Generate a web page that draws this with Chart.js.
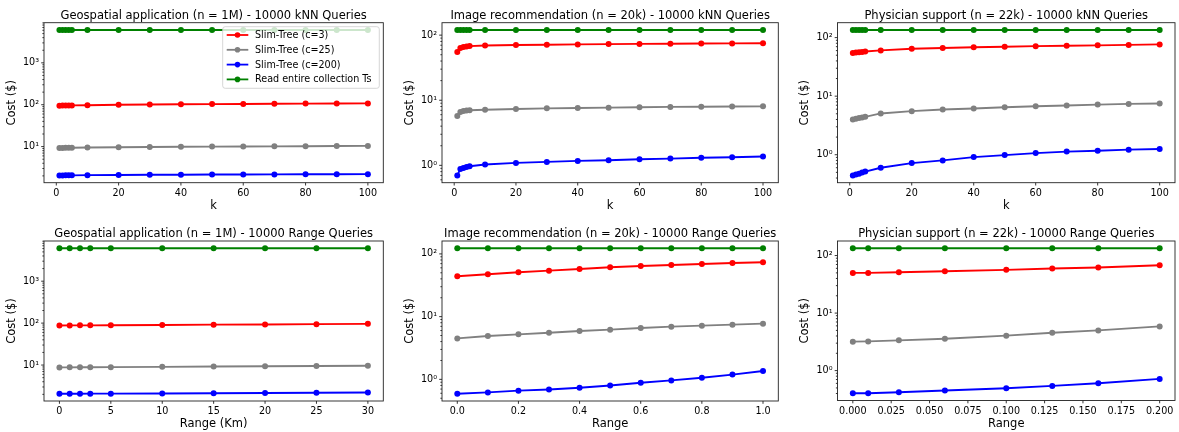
<!DOCTYPE html>
<html lang="en">
<head>
<meta charset="UTF-8" />
<title>Slim-Tree query cost</title>
<script src="https://cdn.jsdelivr.net/npm/chart.js"></script>
<style>
  html, body { margin: 0; padding: 0; background: #fff; }
  body { width: 1179px; height: 432px; position: relative; overflow: hidden; }
  canvas { position: absolute; }
</style>
</head>
<body>
<canvas id="p1"></canvas>
<canvas id="p2"></canvas>
<canvas id="p3"></canvas>
<canvas id="p4"></canvas>
<canvas id="p5"></canvas>
<canvas id="p6"></canvas>
<script>
// x values
const kValues = [1, 2, 3, 4, 5, 10, 20, 30, 40, 50, 60, 70, 80, 90, 100];
const kmValues = [0, 1, 2, 3, 5, 10, 15, 20, 25, 30];
const imgRanges = [0, 0.1, 0.2, 0.3, 0.4, 0.5, 0.6, 0.7, 0.8, 0.9, 1.0];
const physRanges = [0, 0.01, 0.03, 0.06, 0.1, 0.13, 0.16, 0.2];

// tick labels
const kTicks = [0, 20, 40, 60, 80, 100];
const kmTicks = [0, 5, 10, 15, 20, 25, 30];
const imgTicks = [0, 0.2, 0.4, 0.6, 0.8, 1.0];
const physTicks = [0, 0.025, 0.05, 0.075, 0.1, 0.125, 0.15, 0.175, 0.2];

const seriesNames = ['Slim-Tree (c=3)', 'Slim-Tree (c=25)', 'Slim-Tree (c=200)', 'Read entire collection Ts'];
const seriesColors = ['#ff0000', '#808080', '#0000ff', '#008000'];

// Geospatial kNN
const geoKnnC3 = [95, 95.3, 95.6, 96, 96.3, 97.5, 99.5, 101, 102.5, 103.5, 104.5, 105.5, 106.3, 107, 107.5];
const geoKnnC25 = [9.3, 9.32, 9.34, 9.36, 9.38, 9.5, 9.65, 9.8, 9.9, 10.0, 10.1, 10.15, 10.2, 10.3, 10.4];
const geoKnnC200 = [2.05, 2.05, 2.06, 2.06, 2.06, 2.08, 2.1, 2.12, 2.13, 2.15, 2.16, 2.17, 2.18, 2.19, 2.2];
const geoKnnTs = [6100, 6100, 6100, 6100, 6100, 6100, 6100, 6100, 6100, 6100, 6100, 6100, 6100, 6100, 6100];

// Image recommendation kNN
const imgKnnC3 = [55, 63.5, 65.5, 67, 67.8, 69.3, 70.5, 71.3, 72, 72.8, 73.3, 73.8, 74.2, 74.7, 75];
const imgKnnC25 = [5.75, 6.6, 6.85, 6.95, 7.0, 7.15, 7.35, 7.5, 7.6, 7.7, 7.8, 7.9, 7.95, 8.0, 8.05];
const imgKnnC200 = [0.70, 0.88, 0.91, 0.94, 0.97, 1.03, 1.09, 1.13, 1.17, 1.2, 1.24, 1.27, 1.31, 1.33, 1.37];
const imgKnnTs = [120, 120, 120, 120, 120, 120, 120, 120, 120, 120, 120, 120, 120, 120, 120];

// Physician support kNN
const physKnnC3 = [54.5, 55.5, 56.3, 57, 57.8, 60.5, 64.5, 66.5, 68.3, 70, 71.5, 72.8, 73.8, 75, 76.5];
const physKnnC25 = [4.0, 4.12, 4.22, 4.32, 4.43, 5.07, 5.55, 5.92, 6.15, 6.47, 6.72, 6.92, 7.18, 7.38, 7.5];
const physKnnC200 = [0.443, 0.46, 0.475, 0.495, 0.515, 0.6, 0.72, 0.8, 0.91, 0.985, 1.065, 1.13, 1.17, 1.22, 1.255];
const physKnnTs = [135, 135, 135, 135, 135, 135, 135, 135, 135, 135, 135, 135, 135, 135, 135];

// Geospatial range
const geoRangeC3 = [88, 88.2, 88.4, 88.6, 89, 90.5, 92, 93, 94.5, 96];
const geoRangeC25 = [8.8, 8.82, 8.84, 8.86, 8.9, 9.05, 9.2, 9.35, 9.5, 9.62];
const geoRangeC200 = [2.07, 2.07, 2.07, 2.08, 2.08, 2.1, 2.12, 2.15, 2.18, 2.21];
const geoRangeTs = [6100, 6100, 6100, 6100, 6100, 6100, 6100, 6100, 6100, 6100];

// Image recommendation range
const imgRangeC3 = [44, 47.3, 50.9, 54.1, 57.5, 61.2, 64.3, 66.7, 69.2, 71.8, 73.6];
const imgRangeC25 = [4.5, 4.91, 5.22, 5.54, 5.9, 6.2, 6.59, 6.92, 7.18, 7.45, 7.73];
const imgRangeC200 = [0.59, 0.62, 0.66, 0.69, 0.736, 0.80, 0.885, 0.963, 1.06, 1.19, 1.36];
const imgRangeTs = [123, 123, 123, 123, 123, 123, 123, 123, 123, 123, 123];

// Physician support range
const physRangeC3 = [50, 50, 51.4, 53.5, 56.4, 59.5, 61.9, 68];
const physRangeC25 = [3.19, 3.22, 3.36, 3.59, 4.05, 4.56, 5.0, 5.87];
const physRangeC200 = [0.404, 0.404, 0.421, 0.45, 0.494, 0.542, 0.603, 0.717];
const physRangeTs = [134, 134, 134, 134, 134, 134, 134, 134];

const panels = [
  { id: 'p1', title: 'Geospatial application (n = 1M) - 10000 kNN Queries', xLabel: 'k',
    x: kValues, xTicks: kTicks, dec: 0, series: [geoKnnC3, geoKnnC25, geoKnnC200, geoKnnTs], legend: true,
    box: [0, 0, 390, 216], area: [44, 22.7, 383.3, 182.7], xTitlePad: 3 },
  { id: 'p2', title: 'Image recommendation (n = 20k) - 10000 kNN Queries', xLabel: 'k',
    x: kValues, xTicks: kTicks, dec: 0, series: [imgKnnC3, imgKnnC25, imgKnnC200, imgKnnTs],
    box: [398, 0, 386, 216], area: [442, 22.7, 778.3, 182.7], xTitlePad: 3 },
  { id: 'p3', title: 'Physician support (n = 22k) - 10000 kNN Queries', xLabel: 'k',
    x: kValues, xTicks: kTicks, dec: 0, series: [physKnnC3, physKnnC25, physKnnC200, physKnnTs],
    box: [793, 0, 386, 216], area: [837.5, 22.7, 1176, 182.7], xTitlePad: 3 },
  { id: 'p4', title: 'Geospatial application (n = 1M) - 10000 Range Queries', xLabel: 'Range (Km)',
    x: kmValues, xTicks: kmTicks, dec: 0, series: [geoRangeC3, geoRangeC25, geoRangeC200, geoRangeTs],
    box: [0, 216, 390, 216], area: [44, 241, 383.3, 401], xTitlePad: 1 },
  { id: 'p5', title: 'Image recommendation (n = 20k) - 10000 Range Queries', xLabel: 'Range',
    x: imgRanges, xTicks: imgTicks, dec: 1, series: [imgRangeC3, imgRangeC25, imgRangeC200, imgRangeTs],
    box: [398, 216, 386, 216], area: [442, 241, 778.3, 401], xTitlePad: 1 },
  { id: 'p6', title: 'Physician support (n = 22k) - 10000 Range Queries', xLabel: 'Range',
    x: physRanges, xTicks: physTicks, dec: 3, series: [physRangeC3, physRangeC25, physRangeC200, physRangeTs],
    box: [793, 216, 386, 216], area: [837.5, 241, 1176, 400.5], xTitlePad: 1 }
];

Chart.defaults.font.family = '"DejaVu Sans", sans-serif';
Chart.defaults.color = '#000';

const sup = { '-': '⁻', '0': '⁰', '1': '¹', '2': '²', '3': '³', '4': '⁴', '5': '⁵' };
const powLabel = e => '10' + String(e).split('').map(c => sup[c]).join('');

function logTicks(min, max) {
  const out = [];
  for (let e = Math.floor(Math.log10(min)); e <= Math.ceil(Math.log10(max)); e++) {
    for (let m = 1; m < 10; m++) {
      const v = m * Math.pow(10, e);
      if (v >= min && v <= max) out.push({ value: v, isTen: m === 1, exp: e });
    }
  }
  return out;
}

// spines, tick marks, title and the in-axes legend
const decorPlugin = {
  id: 'decor',
  afterDraw(chart) {
    const { ctx, chartArea: a, scales: { x, y } } = chart;
    const p = chart.options.plugins.decor;
    ctx.save();
    ctx.strokeStyle = '#000';
    ctx.lineWidth = 0.8;
    ctx.beginPath();
    x.ticks.forEach(t => {
      const px = x.getPixelForValue(t.value);
      ctx.moveTo(px, a.bottom); ctx.lineTo(px, a.bottom + 2.8);
    });
    y.ticks.forEach(t => {
      const py = y.getPixelForValue(t.value);
      const len = t.isTen ? 2.8 : 1.6;
      ctx.moveTo(a.left - len, py); ctx.lineTo(a.left, py);
    });
    ctx.stroke();
    ctx.strokeStyle = '#222';
    ctx.lineWidth = 0.9;
    ctx.strokeRect(a.left, a.top, a.right - a.left, a.bottom - a.top);

    ctx.fillStyle = '#000';
    ctx.font = '11.5px "DejaVu Sans"';
    ctx.textAlign = 'center';
    ctx.textBaseline = 'alphabetic';
    ctx.fillText(p.title, (a.left + a.right) / 2, a.top - 3.6);

    if (p.legend) {
      const bw = 156.6, bh = 61.6;
      const bx = a.right - 4 - bw, by = a.top + 4;
      ctx.beginPath();
      ctx.roundRect(bx, by, bw, bh, 2.5);
      ctx.fillStyle = 'rgba(255,255,255,0.8)';
      ctx.fill();
      ctx.strokeStyle = '#cccccc';
      ctx.lineWidth = 0.8;
      ctx.stroke();
      ctx.font = '9.6px "DejaVu Sans"';
      ctx.textAlign = 'left';
      ctx.textBaseline = 'middle';
      chart.data.datasets.forEach((ds, i) => {
        const cy = by + 8.3 + i * 14.8;
        ctx.strokeStyle = ds.borderColor;
        ctx.lineWidth = 1.8;
        ctx.beginPath();
        ctx.moveTo(bx + 4, cy); ctx.lineTo(bx + 25.6, cy);
        ctx.stroke();
        ctx.fillStyle = ds.borderColor;
        ctx.beginPath();
        ctx.arc(bx + 14.8, cy, 2.8, 0, Math.PI * 2);
        ctx.fill();
        ctx.fillStyle = '#000';
        ctx.fillText(ds.label, bx + 32.3, cy + 0.5);
      });
    }
    ctx.restore();
  }
};

panels.forEach(p => {
  const [bx, by, bw, bh] = p.box;
  const [al, at, ar, ab] = p.area;
  const cv = document.getElementById(p.id);
  cv.width = bw; cv.height = bh;
  cv.style.left = bx + 'px'; cv.style.top = by + 'px';

  const all = p.series.flat();
  const lo = Math.log10(Math.min(...all)), hi = Math.log10(Math.max(...all));
  const ym = (hi - lo) * 0.05;
  const yMin = Math.pow(10, lo - ym), yMax = Math.pow(10, hi + ym);
  const x0 = Math.min(...p.x), x1 = Math.max(...p.x);
  const xm = (x1 - x0) * 0.05;

  new Chart(cv, {
    type: 'line',
    data: {
      datasets: p.series.map((s, i) => ({
        label: seriesNames[i],
        data: p.x.map((xv, j) => ({ x: xv, y: s[j] })),
        borderColor: seriesColors[i],
        backgroundColor: seriesColors[i],
        borderWidth: 1.9,
        pointRadius: 3,
        pointBorderWidth: 0,
        tension: 0
      }))
    },
    options: {
      responsive: false,
      animation: false,
      events: [],
      layout: { padding: { top: at - by, right: bx + bw - ar, left: 0, bottom: 0 } },
      plugins: {
        legend: { display: false },
        tooltip: { enabled: false },
        decor: { title: p.title, legend: !!p.legend }
      },
      scales: {
        x: {
          type: 'linear', bounds: 'data', min: x0 - xm, max: x1 + xm,
          afterBuildTicks: s => { s.ticks = p.xTicks.map(v => ({ value: v })); },
          afterFit: s => { s.height = by + bh - ab; s.paddingLeft = 0; s.paddingRight = 0; },
          grid: { display: true, drawOnChartArea: false, drawTicks: true, tickLength: 2.8, color: 'rgba(0,0,0,0)' },
          border: { display: false },
          ticks: { autoSkip: false, maxRotation: 0, padding: 2, font: { size: 9.6 },
                   callback: v => Number(v).toFixed(p.dec) },
          title: { display: true, text: p.xLabel, font: { size: 11.5 }, padding: { top: 0, bottom: p.xTitlePad } }
        },
        y: {
          type: 'logarithmic', bounds: 'data', min: yMin, max: yMax,
          afterBuildTicks: s => { s.ticks = logTicks(yMin, yMax); },
          afterFit: s => { s.width = al - bx; s.paddingTop = 0; s.paddingBottom = 0; },
          grid: { display: true, drawOnChartArea: false, drawTicks: true, tickLength: 2.8, color: 'rgba(0,0,0,0)' },
          border: { display: false },
          ticks: { autoSkip: false, padding: 2.2, font: { size: 9.6 },
                   callback: (v, i, ticks) => ticks[i].isTen ? powLabel(ticks[i].exp) : '' },
          title: { display: true, text: 'Cost ($)', font: { size: 11.5 }, padding: { top: 5.6, bottom: 0 } }
        }
      }
    },
    plugins: [decorPlugin]
  });
});
</script>
</body>
</html>
